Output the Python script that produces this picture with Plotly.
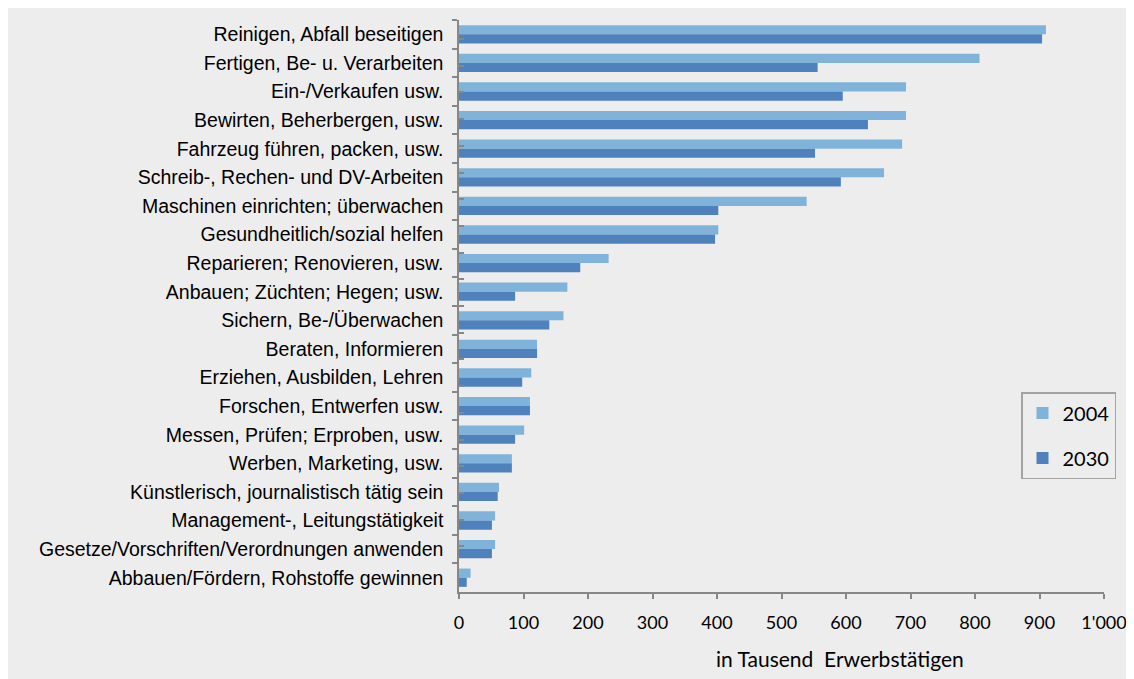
import plotly.graph_objects as go

categories = [
    "Reinigen, Abfall beseitigen",
    "Fertigen, Be- u. Verarbeiten",
    "Ein-/Verkaufen usw.",
    "Bewirten, Beherbergen, usw.",
    "Fahrzeug führen, packen, usw.",
    "Schreib-, Rechen- und DV-Arbeiten",
    "Maschinen einrichten; überwachen",
    "Gesundheitlich/sozial helfen",
    "Reparieren; Renovieren, usw.",
    "Anbauen; Züchten; Hegen; usw.",
    "Sichern, Be-/Überwachen",
    "Beraten, Informieren",
    "Erziehen, Ausbilden, Lehren",
    "Forschen, Entwerfen usw.",
    "Messen, Prüfen; Erproben, usw.",
    "Werben, Marketing, usw.",
    "Künstlerisch, journalistisch tätig sein",
    "Management-, Leitungstätigkeit",
    "Gesetze/Vorschriften/Verordnungen anwenden",
    "Abbauen/Fördern, Rohstoffe gewinnen",
]
values_2004 = [910, 807, 693, 693, 687, 659, 539, 402, 232, 168, 162, 121, 112, 110, 101, 82, 62, 56, 56, 18]
values_2030 = [904, 556, 595, 634, 552, 592, 402, 397, 188, 87, 140, 121, 98, 110, 87, 82, 60, 51, 51, 12]
x_tickvals = [0, 100, 200, 300, 400, 500, 600, 700, 800, 900, 1000]
x_ticktext = ["0", "100", "200", "300", "400", "500", "600", "700", "800", "900", "1'000"]
series_names = ["2004", "2030"]

# page has an 8px body margin; figure coordinates are page coordinates minus 8
OFF = 8
W, H = 1134, 679
ML = 459 - OFF
MT = 20 - OFF
PR = 1104 - OFF   # plot right edge (figure coords)
PB = 592 - OFF    # plot bottom edge (figure coords)
MR, MB = W - PR, H - PB
pw, ph = PR - ML, PB - MT

BG = "#EDEDED"
AX = "#878787"

fig = go.Figure()
fig.add_trace(go.Bar(
    y=categories, x=values_2004, orientation="h", name=series_names[0],
    marker=dict(color="#80B3D9", line=dict(width=0)), legendgroup="a",
))
fig.add_trace(go.Bar(
    y=categories, x=values_2030, orientation="h", name=series_names[1],
    marker=dict(color="#4F81BD", line=dict(width=0)), legendgroup="b",
))
# invisible helper trace for inner tick marks (cross ticks)
fig.add_trace(go.Scatter(
    y=categories, x=values_2030, yaxis="y2", mode="markers",
    marker=dict(opacity=0), showlegend=False, hoverinfo="skip",
))

fig.update_layout(
    width=W, height=H,
    margin=dict(l=ML, r=MR, t=MT, b=MB, pad=0),
    paper_bgcolor=BG,
    plot_bgcolor="rgba(0,0,0,0)",
    barmode="group",
    bargap=0.36,
    bargroupgap=0,
    showlegend=True,
    legend=dict(
        x=(1021 - OFF - ML) / pw, y=(PB - (392 - OFF)) / ph, xanchor="left", yanchor="top",
        bgcolor=BG, bordercolor="#A3A3A3", borderwidth=1.5,
        font=dict(family="Lato", size=20, color="black"),
        traceorder="grouped", tracegroupgap=16, itemwidth=30,
    ),
    xaxis=dict(
        range=[0, 1000], tickvals=x_tickvals, ticktext=x_ticktext,
        showgrid=False, zeroline=False,
        showline=True, linecolor=AX, linewidth=1.5,
        ticks="outside", ticklen=5, tickcolor=AX, tickwidth=1.5,
        tickfont=dict(family="Lato", size=18, color="black"),
        ticklabelstandoff=9,
    ),
    yaxis=dict(
        type="category", categoryarray=categories, autorange="reversed",
        showgrid=False, zeroline=False,
        showline=True, linecolor=AX, linewidth=1.5,
        ticks="outside", ticklen=5, tickcolor=AX, tickwidth=1.5,
        tickson="boundaries",
        tickfont=dict(family="Liberation Sans", size=19.5, color="black"),
        ticklabelstandoff=10,
    ),
    yaxis2=dict(
        type="category", categoryarray=categories, autorange="reversed",
        overlaying="y", side="left", anchor="x",
        showgrid=False, zeroline=False, showline=False,
        ticks="inside", ticklen=5, tickcolor=AX, tickwidth=1.5,
        tickson="boundaries", showticklabels=False,
    ),
    annotations=[dict(
        text="in Tausend  Erwerbstätigen", xref="paper", yref="paper",
        x=(840 - 459) / (1104 - 459), y=0, xanchor="center", yanchor="middle", yshift=-66,
        showarrow=False, font=dict(family="Lato", size=21, color="black"),
    )],
)

fig.write_html("out.html")
